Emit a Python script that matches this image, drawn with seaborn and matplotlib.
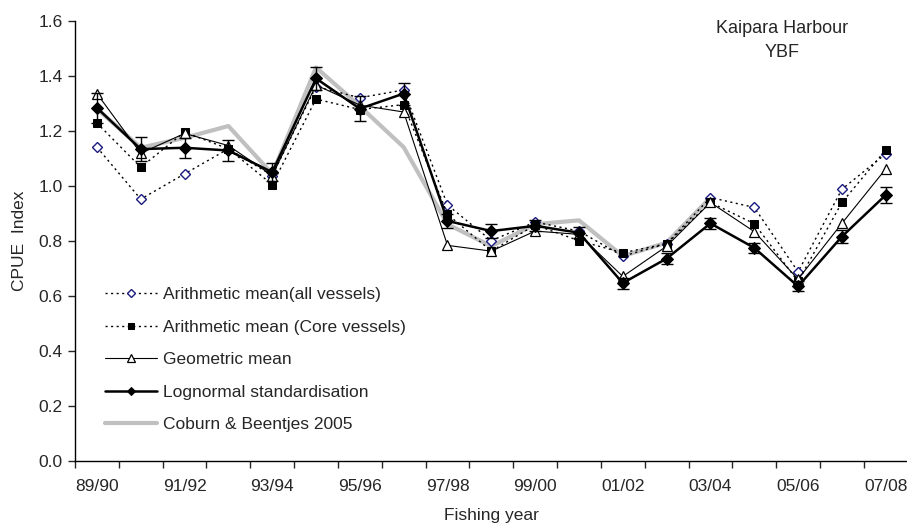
import numpy as np
import pandas as pd
import matplotlib
matplotlib.use("Agg")
import matplotlib.pyplot as plt
import seaborn as sns

years = ["89/90", "90/91", "91/92", "92/93", "93/94", "94/95", "95/96", "96/97",
         "97/98", "98/99", "99/00", "00/01", "01/02", "02/03", "03/04", "04/05",
         "05/06", "06/07", "07/08"]

arith_all = [1.14, 0.951, 1.043, 1.134, 1.037, 1.36, 1.32, 1.348, 0.93, 0.80,
             0.868, 0.835, 0.744, 0.789, 0.957, 0.921, 0.687, 0.987, 1.116]
arith_core = [1.228, 1.067, 1.195, 1.134, 1.004, 1.315, 1.277, 1.295, 0.896, 0.762,
              0.857, 0.80, 0.756, 0.789, 0.939, 0.862, 0.652, 0.939, 1.13]
geo_mean = [1.335, 1.118, 1.19, 1.146, 1.037, 1.366, 1.293, 1.268, 0.783, 0.762,
            0.835, 0.823, 0.67, 0.78, 0.939, 0.833, 0.66, 0.863, 1.061]
lognormal = [1.283, 1.133, 1.138, 1.128, 1.049, 1.39, 1.28, 1.335, 0.872, 0.835,
             0.854, 0.829, 0.646, 0.735, 0.863, 0.774, 0.634, 0.815, 0.966]
lognormal_err = [0.055, 0.044, 0.037, 0.038, 0.033, 0.043, 0.046, 0.04, 0.025, 0.025,
                 0.02, 0.02, 0.02, 0.02, 0.02, 0.018, 0.018, 0.023, 0.029]
coburn = [1.28, 1.138, 1.174, 1.217, 1.043, 1.43, 1.289, 1.14, 0.86, 0.78,
          0.86, 0.874, 0.744, 0.793, 0.957, np.nan, np.nan, np.nan, np.nan]

df = pd.DataFrame({
    "x": np.arange(len(years)),
    "arith_all": arith_all,
    "arith_core": arith_core,
    "geo": geo_mean,
    "logn": lognormal,
    "err": lognormal_err,
    "coburn": coburn,
})

sns.set_style("ticks")
plt.rcParams["font.family"] = ["Liberation Sans", "DejaVu Sans"]
fs = 12.5

fig = plt.figure(figsize=(9.07, 5.24), dpi=100)
ax = fig.add_axes([0.0827, 0.1208, 0.918, 0.8397])

dots = (0, (1.5, 2.5))
sns.lineplot(data=df, x="x", y="arith_all", ax=ax, color="black", lw=1.0,
             linestyle=dots, marker="D", markersize=5.5, markerfacecolor="white",
             markeredgecolor="#1a1a80", markeredgewidth=1.0,
             label="Arithmetic mean(all vessels)")
sns.lineplot(data=df, x="x", y="arith_core", ax=ax, color="black", lw=1.0,
             linestyle=dots, marker="s", markersize=6, markerfacecolor="black",
             markeredgecolor="black", label="Arithmetic mean (Core vessels)")
sns.lineplot(data=df, x="x", y="geo", ax=ax, color="black", lw=0.8,
             marker="^", markersize=7, markerfacecolor="white",
             markeredgecolor="black", markeredgewidth=0.9, label="Geometric mean")
ax.errorbar(df["x"], df["logn"], yerr=df["err"], fmt="none", ecolor="black",
            elinewidth=1.0, capsize=4.5, capthick=1.0, zorder=3)
sns.lineplot(data=df, x="x", y="logn", ax=ax, color="black", lw=1.8,
             marker="D", markersize=6, markerfacecolor="black",
             markeredgecolor="black", label="Lognormal standardisation")
sns.lineplot(data=df, x="x", y="coburn", ax=ax, color="#c0c0c0", lw=3.0,
             label="Coburn & Beentjes 2005", zorder=1)

ax.set_xlim(-0.5, 18.5)
ax.set_ylim(0, 1.6)
yt = np.arange(0, 1.61, 0.2)
ax.set_yticks(yt)
ax.set_yticklabels([f"{v:.1f}" for v in yt])
ax.set_xticks(np.arange(0, len(years), 2))
ax.set_xticklabels(years[::2])
ax.set_xticks(np.arange(-0.5, len(years), 1), minor=True)
ax.tick_params(axis="x", which="major", length=0, pad=13, labelsize=fs)
ax.tick_params(axis="x", which="minor", length=5, direction="out", width=1)
ax.tick_params(axis="y", length=5, direction="out", width=1, pad=4, labelsize=fs)
for s in ["top", "right"]:
    ax.spines[s].set_visible(False)
for s in ["left", "bottom"]:
    ax.spines[s].set_color("black")
    ax.spines[s].set_linewidth(1.0)

ax.set_xlabel("Fishing year", fontsize=fs, labelpad=10)
ax.set_ylabel("CPUE  Index", fontsize=fs, labelpad=8)

ax.text(782, 524 - 40.5, "Kaipara Harbour\nYBF", transform=None,
        ha="center", va="center", fontsize=13, linespacing=1.55)

ax.legend(loc="upper left", bbox_to_anchor=(105 / 907, 1 - 287 / 524),
          bbox_transform=fig.transFigure, frameon=False, borderpad=0,
          borderaxespad=0, handlelength=3.0, labelspacing=1.0,
          handletextpad=0.35, markerscale=0.75, fontsize=fs)

fig.savefig("out.png", dpi=100)
